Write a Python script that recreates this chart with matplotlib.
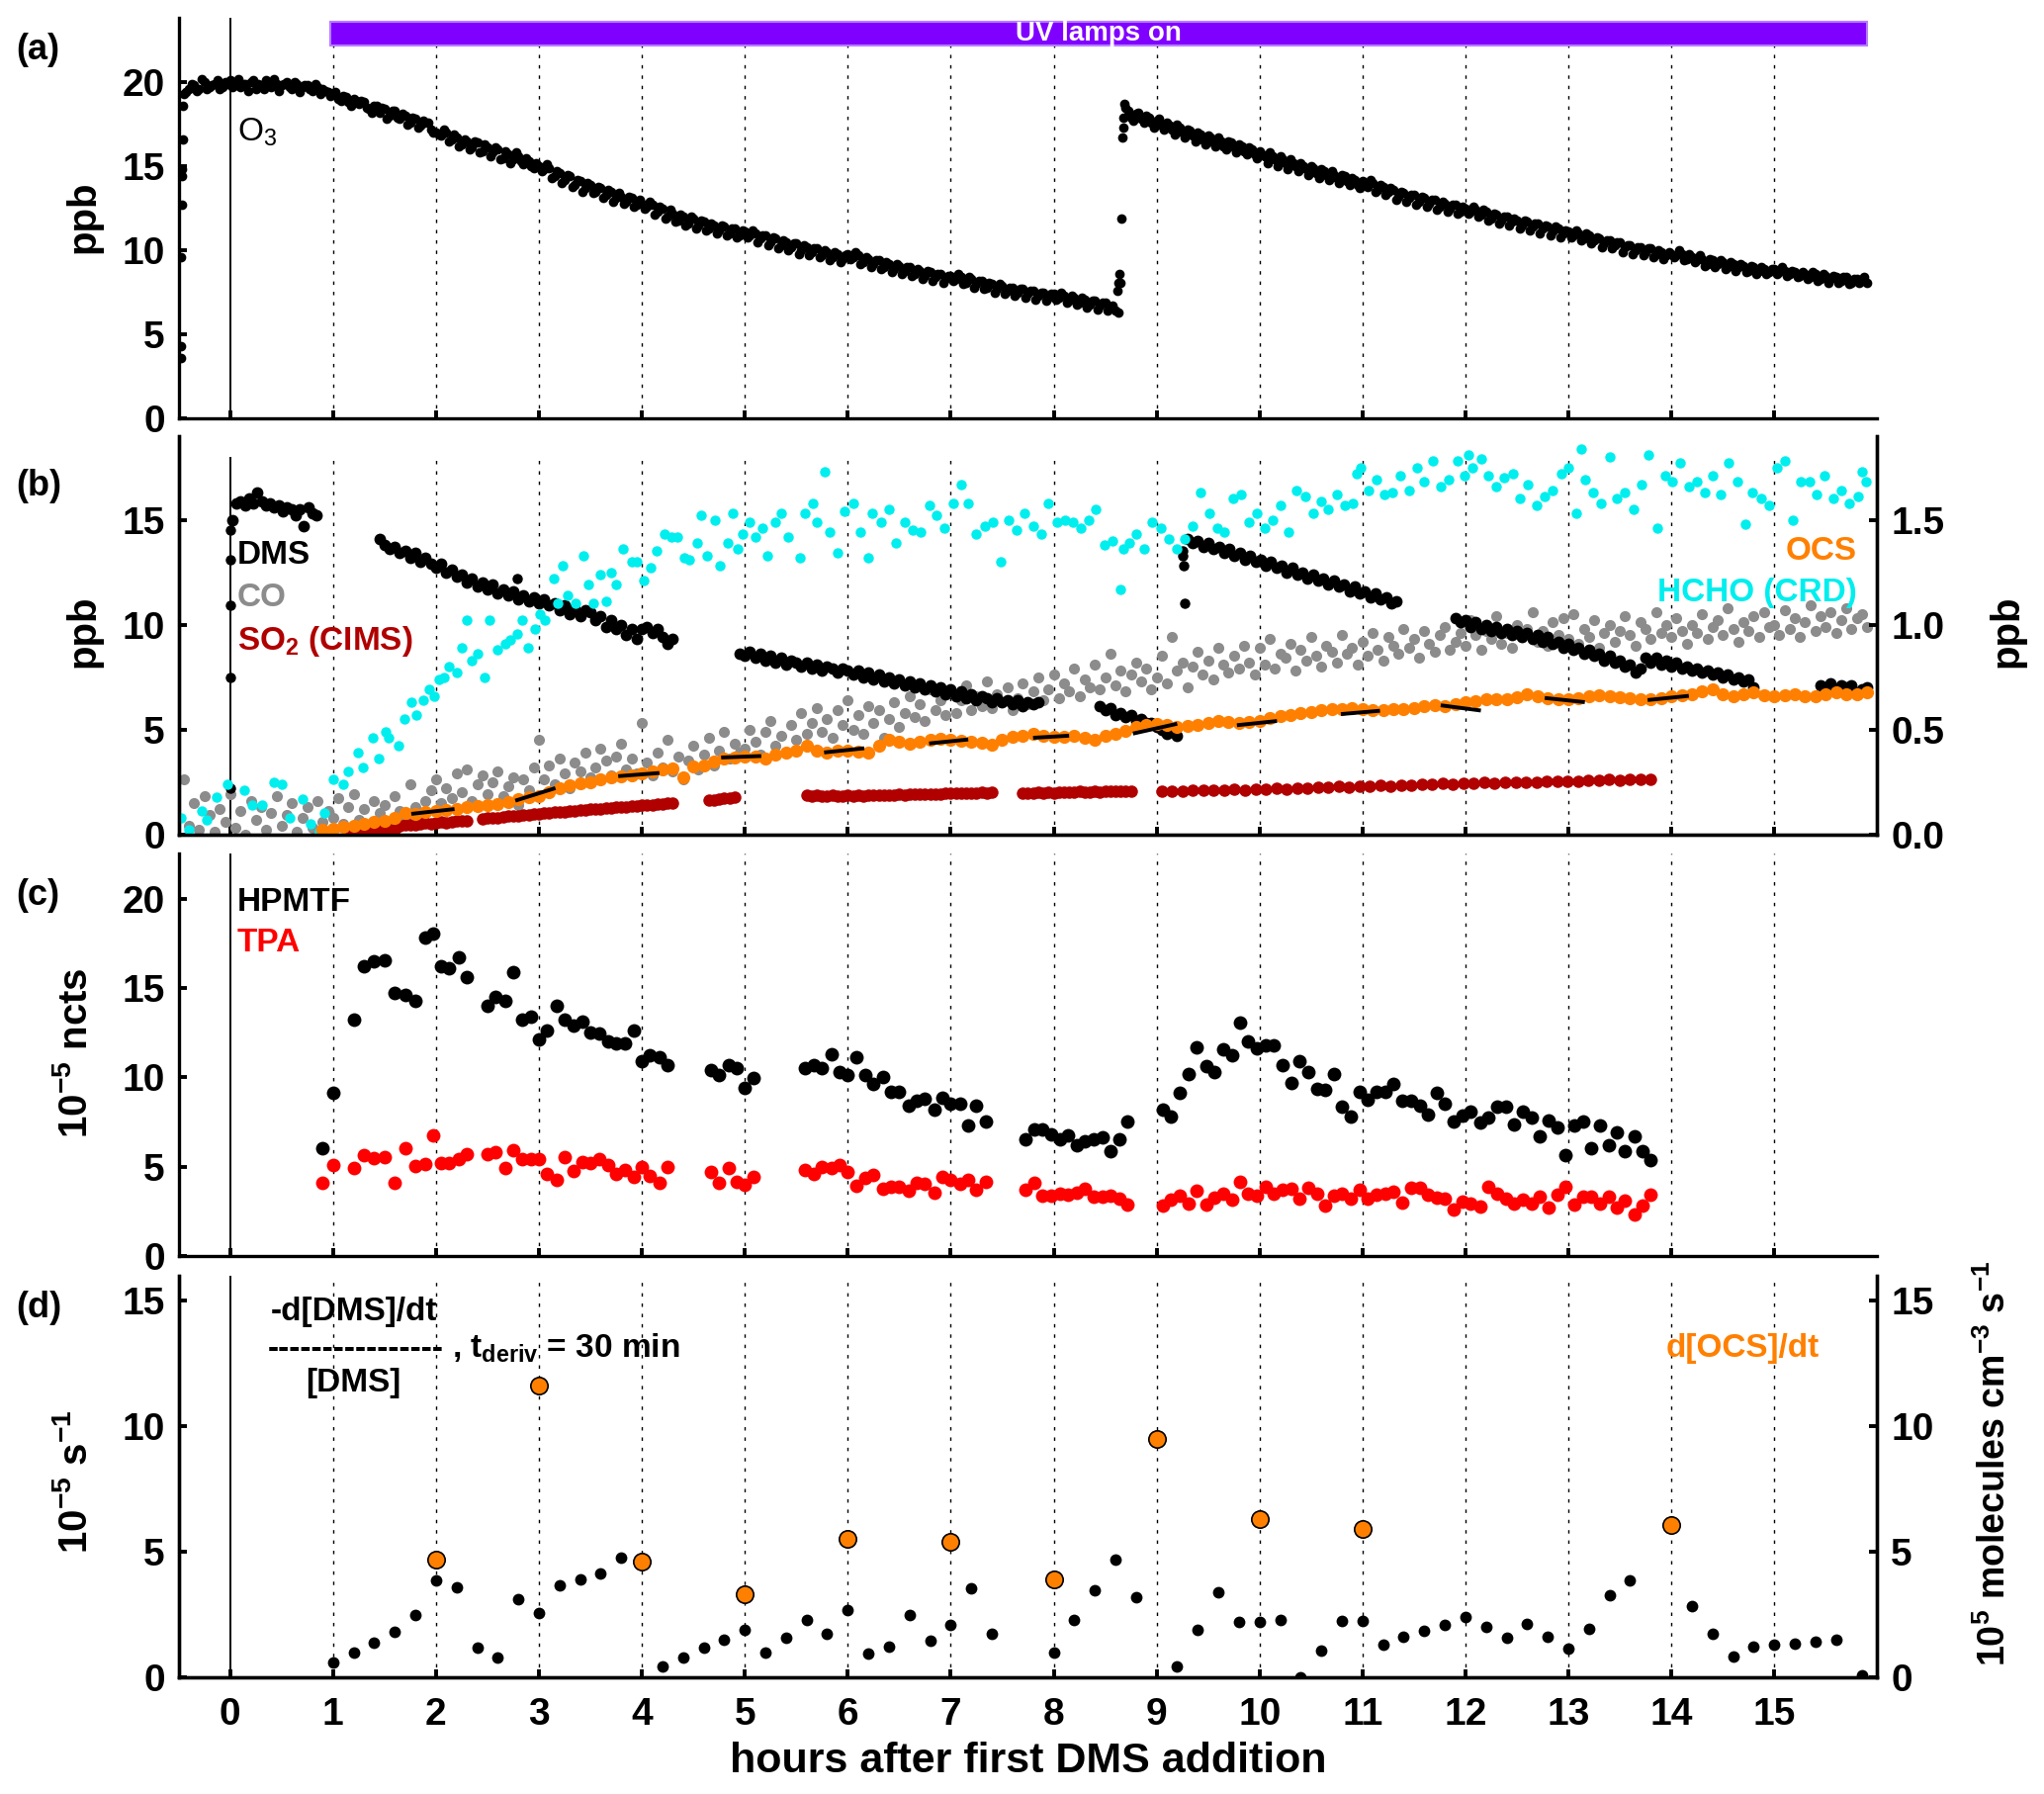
import numpy as np
import matplotlib
matplotlib.use('Agg')
import matplotlib.pyplot as plt

plt.rcParams['font.family'] = ['Liberation Sans', 'DejaVu Sans']
plt.rcParams['font.weight'] = 'bold'
plt.rcParams['mathtext.default'] = 'regular'
plt.rcParams['axes.linewidth'] = 2.4

# ---------------- data ----------------
hours = list(range(16))
uv_on, uv_off = 0.97, 15.9

# Panel (a): O3 (ppb), two interleaved sample sets on regular grids
o3_start, o3_end = -0.45, 15.90
o3_vals = [19.3, 19.6, 19.8, 19.6, 20.0, 19.7, 19.9, 19.6, 20.0,
    20.1, 19.8, 19.7, 19.9, 20.0, 19.6, 19.8, 20.1, 19.7, 19.9, 19.8, 20.0, 19.6, 19.9, 19.7, 19.8, 19.5, 19.7, 19.6, 19.4,
    19.3, 19.0, 19.2, 18.8, 19.0, 18.7, 18.8, 18.4, 18.6, 18.2, 18.4, 18.0, 18.3, 17.8, 18.0, 17.6, 17.8, 17.4, 17.6, 17.2,
    17.0, 16.8, 17.0, 16.6, 16.7, 16.3, 16.5, 16.1, 16.4, 15.9, 16.1, 15.8, 16.0, 15.5, 15.7, 15.4, 15.6, 15.1, 15.3, 14.9,
    15.0, 14.8, 14.9, 14.4, 14.6, 14.2, 14.4, 13.9, 14.1, 13.7, 13.9, 13.5, 13.7, 13.3, 13.5, 13.1, 13.2, 12.9, 13.1, 12.7,
    12.8, 12.6, 12.7, 12.3, 12.5, 12.0, 12.2, 11.8, 12.0, 11.6, 11.9, 11.5, 11.7, 11.3, 11.5, 11.2, 11.4, 11.0, 11.3, 10.9,
    11.1, 10.9, 11.0, 10.7, 10.9, 10.5, 10.7, 10.3, 10.5, 10.2, 10.4, 10.0, 10.2, 9.9, 10.1, 9.7, 9.9, 9.6, 9.8, 9.5,
    9.8, 9.6, 9.7, 9.3, 9.5, 9.2, 9.4, 9.0, 9.2, 8.9, 9.1, 8.8, 9.0, 8.6, 8.8, 8.5, 8.7, 8.4, 8.6, 8.3,
    8.5, 8.3, 8.4, 8.1, 8.3, 8.0, 8.2, 7.8, 8.0, 7.7, 7.9, 7.6, 7.8, 7.5, 7.7, 7.4, 7.6, 7.3, 7.5, 7.2,
    7.4, 7.2, 7.3, 7.0, 7.2, 6.9, 7.1, 6.8, 7.0, 6.7, 6.9, 6.6, 6.4, 8.1, 18.5, 17.9, 18.1, 17.8, 18.0, 17.6,
    17.7, 17.4, 17.6, 17.2, 17.5, 17.0, 17.2, 16.8, 17.0, 16.6, 16.8, 16.4, 16.7, 16.2, 16.5, 16.1, 16.3, 15.9, 16.1, 15.7,
    15.9, 15.6, 15.8, 15.4, 15.6, 15.2, 15.4, 15.0, 15.2, 14.8, 15.0, 14.6, 14.8, 14.5, 14.7, 14.3, 14.5, 14.1, 14.3, 13.9,
    14.1, 13.8, 14.0, 13.6, 13.8, 13.5, 13.6, 13.2, 13.4, 13.1, 13.3, 12.9, 13.1, 12.8, 13.0, 12.6, 12.8, 12.5, 12.7, 12.3,
    12.5, 12.3, 12.4, 12.1, 12.3, 11.9, 12.1, 11.8, 12.0, 11.7, 11.8, 11.5, 11.7, 11.4, 11.6, 11.3, 11.4, 11.1, 11.3, 11.0,
    11.1, 10.9, 11.0, 10.7, 10.9, 10.6, 10.7, 10.4, 10.6, 10.3, 10.5, 10.2, 10.3, 10.0, 10.2, 9.9, 10.1, 9.8, 9.9, 9.7,
    9.8, 9.7, 9.8, 9.5, 9.6, 9.4, 9.5, 9.2, 9.4, 9.2, 9.3, 9.0, 9.2, 9.0, 9.1, 8.8, 9.0, 8.8, 8.9, 8.7,
    8.9, 8.7, 8.8, 8.6, 8.7, 8.5, 8.6, 8.4, 8.6, 8.3, 8.5, 8.3, 8.4, 8.2, 8.4, 8.1, 8.3, 8.2, 8.1]
o3b_start, o3b_end = -0.425, 15.875
o3b_vals = [19.4, 19.9, 19.5, 20.2, 19.6, 19.8, 20.1, 19.7, 19.9,
    19.7, 20.2, 19.9, 19.5, 20.1, 19.9, 19.6, 19.8, 20.2, 19.5, 19.9, 19.7, 20.0, 19.4, 19.8, 19.6, 19.9, 19.3, 19.5, 19.2,
    19.4, 18.9, 19.1, 18.6, 18.9, 18.9, 18.5, 18.2, 18.6, 18.5, 17.8, 18.3, 17.9, 18.1, 17.5, 17.9, 17.3, 17.7, 17.6, 17.0,
    16.9, 17.2, 16.5, 16.9, 16.2, 16.6, 16.0, 16.5, 15.8, 16.3, 15.6, 16.1, 15.4, 15.9, 15.2, 15.8, 15.3, 15.5, 15.0, 15.2,
    14.7, 15.1, 14.3, 14.7, 14.0, 14.5, 13.8, 14.2, 13.5, 14.0, 13.4, 13.8, 13.1, 13.6, 12.9, 13.4, 12.8, 13.2, 12.6, 13.0,
    12.5, 12.9, 12.1, 12.6, 11.9, 12.4, 11.7, 12.1, 11.5, 12.0, 11.3, 11.8, 11.2, 11.6, 11.0, 11.5, 10.9, 11.3, 10.8, 11.2,
    10.8, 11.2, 10.5, 10.9, 10.3, 10.8, 10.1, 10.6, 10.0, 10.4, 9.8, 10.3, 9.7, 10.1, 9.6, 10.0, 9.4, 9.9, 9.3, 9.7,
    9.5, 9.9, 9.2, 9.6, 9.0, 9.4, 8.9, 9.3, 8.7, 9.2, 8.6, 9.0, 8.5, 8.9, 8.3, 8.8, 8.2, 8.6, 8.1, 8.5,
    8.2, 8.6, 8.0, 8.4, 7.8, 8.2, 7.7, 8.1, 7.5, 8.0, 7.4, 7.8, 7.3, 7.7, 7.2, 7.6, 7.1, 7.5, 7.0, 7.4,
    7.1, 7.5, 6.9, 7.3, 6.8, 7.2, 6.6, 7.0, 6.5, 6.9, 6.4, 6.7, 6.3, 17.9, 18.3, 17.7, 18.2, 17.6, 17.9, 17.3,
    17.8, 17.2, 17.4, 16.9, 17.3, 16.7, 17.1, 16.5, 16.9, 16.3, 16.7, 16.2, 16.5, 16.0, 16.4, 15.8, 16.2, 15.7, 16.0, 15.5,
    15.7, 15.2, 15.6, 15.0, 15.4, 14.8, 15.2, 14.7, 15.0, 14.5, 14.9, 14.3, 14.7, 14.2, 14.5, 14.0, 14.4, 13.9, 14.2, 13.7,
    13.9, 14.2, 13.5, 13.9, 13.3, 13.7, 13.0, 13.5, 12.9, 13.3, 12.7, 13.2, 12.6, 13.0, 12.4, 12.9, 12.3, 12.7, 12.2, 12.6,
    12.2, 12.6, 12.0, 12.4, 11.8, 12.2, 11.6, 12.0, 11.5, 11.9, 11.3, 11.8, 11.2, 11.6, 11.0, 11.5, 10.9, 11.4, 10.8, 11.2,
    10.8, 11.2, 10.6, 11.0, 10.4, 10.8, 10.2, 10.6, 10.1, 10.5, 9.9, 10.3, 9.8, 10.2, 9.7, 10.1, 9.6, 10.0, 9.5, 9.9,
    9.6, 10.0, 9.4, 9.8, 9.3, 9.7, 9.1, 9.5, 9.0, 9.4, 8.9, 9.3, 8.8, 9.2, 8.7, 9.1, 8.6, 9.0, 8.6, 8.9,
    8.6, 9.0, 8.5, 8.8, 8.4, 8.7, 8.3, 8.7, 8.2, 8.6, 8.1, 8.5, 8.1, 8.4, 8.0, 8.3, 8.1, 8.4]
# extra O3 points: chamber fill at start and O3 re-injection near 8.65 h
o3_extra_t = [-0.48, -0.48, -0.475, -0.47, -0.47, -0.465, -0.46, -0.455, 8.62, 8.63, 8.64, 8.655, 8.665, 8.675, 8.69]
o3_extra_v = [3.6, 4.3, 9.6, 12.7, 14.4, 14.8, 16.6, 18.6, 7.6, 8.1, 8.6, 11.9, 16.7, 17.3, 18.7]

# Panel (b): DMS (ppb, left axis) in segments (start h, end h, values)
dms_segments = [
    (0.02, 0.84, [15.0, 15.8, 15.9, 15.7, 16.0, 15.8, 16.3, 15.9, 15.7, 15.8, 15.6, 15.7, 15.4, 15.6, 15.5,
                  15.2, 15.5, 14.7, 15.6, 15.3, 15.2]),
    (1.45, 4.30, [14.1, 13.8, 13.6, 13.7, 13.4, 13.5, 13.2, 13.4, 13.0, 13.2, 12.9, 12.7, 12.9, 12.5, 12.6,
                  12.3, 12.4, 12.0, 12.2, 11.8, 12.0, 11.7, 11.9, 11.5, 11.7, 11.4, 11.6, 11.2, 11.4, 11.1,
                  11.3, 11.0, 11.2, 10.9, 11.0, 10.7, 10.9, 10.5, 10.8, 10.4, 10.7, 10.6, 10.2, 10.4, 9.9,
                  10.2, 9.8, 10.0, 9.5, 9.8, 9.3, 9.8, 9.9, 9.6, 9.8, 9.4, 9.1, 9.3]),
    (4.95, 7.85, [8.6, 8.5, 8.7, 8.4, 8.6, 8.3, 8.5, 8.2, 8.4, 8.1, 8.3, 8.2, 8.0, 8.2, 7.9, 8.1, 7.8, 8.0,
                  7.9, 7.7, 7.9, 7.8, 7.6, 7.8, 7.5, 7.7, 7.4, 7.6, 7.3, 7.5, 7.2, 7.4, 7.1, 7.3, 7.0, 7.2,
                  6.9, 7.1, 6.8, 7.0, 6.7, 6.9, 6.6, 6.8, 6.5, 6.7, 6.4, 6.6, 6.5, 6.3, 6.5, 6.3, 6.4, 6.2,
                  6.4, 6.1, 6.3, 6.2, 6.3]),
    (8.45, 9.20, [6.1, 5.9, 6.0, 5.7, 5.8, 5.6, 5.7, 5.4, 5.5, 5.3, 5.3, 5.1, 5.0, 4.8, 4.9, 4.7]),
    (9.30, 11.33, [14.1, 13.9, 14.0, 13.7, 13.9, 13.6, 13.7, 13.4, 13.6, 13.3, 13.4, 13.1, 13.3, 13.0, 13.1,
                   12.8, 13.0, 12.7, 12.8, 12.5, 12.7, 12.4, 12.5, 12.2, 12.4, 12.1, 12.2, 11.9, 12.1, 11.8,
                   11.9, 11.6, 11.8, 11.5, 11.6, 11.3, 11.5, 11.2, 11.3, 11.0, 11.1]),
    (11.90, 14.80, [10.3, 10.1, 10.2, 9.9, 10.1, 9.8, 10.0, 9.7, 9.9, 9.6, 9.8, 9.5, 9.7, 9.4, 9.6, 9.3,
                    9.5, 9.2, 9.4, 9.1, 9.2, 8.9, 9.1, 8.8, 8.9, 8.6, 8.8, 8.5, 8.6, 8.3, 8.5, 8.2, 8.3,
                    8.0, 8.1, 7.7, 7.9, 8.4, 8.2, 8.4, 8.1, 8.3, 8.0, 8.2, 7.9, 8.0, 7.8, 7.9, 7.7, 7.8,
                    7.6, 7.7, 7.5, 7.6, 7.4, 7.5, 7.3, 7.4, 7.0]),
    (15.45, 15.90, [7.1, 7.0, 7.2, 6.9, 7.1, 7.0, 7.1, 6.7, 6.9, 7.0]),
]
dms_extra_t = [0.0, 0.0, 0.0, 0.0, 0.0, 2.79, 9.25, 9.25, 9.26, 9.27]
dms_extra_v = [2.2, 7.5, 10.9, 13.1, 14.5, 12.2, 13.5, 13.3, 12.8, 11.0]

# CO (ppb, left axis), regular sampling -0.45 .. 15.90 h
co_start, co_end = -0.45, 15.90
co_vals = [2.6, 0.4, 1.5, 0.2, 1.8, 0.9, 0.1, 1.2, 0.6,
    1.9, 0.3, 1.1, 0.0, 1.6, 0.7, 1.3, 0.2, 1.0, 1.8, 0.4, 0.9, 1.5, 0.1, 0.8, 1.3, 0.3, 1.6, 0.6, 1.1,
    0.8, 1.7, 0.5, 1.3, 1.9, 0.7, 1.2, 0.4, 1.6, 1.0, 1.4, 0.6, 1.8, 1.1, 0.8, 2.4, 1.3, 0.9, 1.6, 2.1,
    2.6, 1.5, 2.2, 1.7, 2.9, 2.0, 3.1, 1.6, 2.4, 2.8, 1.9, 2.5, 3.0, 1.8, 2.3, 2.7, 1.4, 2.6, 2.1, 3.2,
    4.5, 2.6, 3.3, 2.4, 3.6, 2.9, 2.2, 3.4, 3.0, 3.9, 2.7, 3.2, 4.1, 3.5, 2.8, 3.7, 4.3, 3.1, 3.6, 2.9,
    5.3, 3.4, 2.8, 3.9, 3.2, 4.5, 3.0, 3.7, 2.6, 3.5, 4.2, 3.1, 3.8, 4.6, 3.3, 4.0, 4.9, 3.6, 4.3, 3.9,
    4.1, 5.0, 4.4, 3.8, 4.9, 5.4, 4.2, 4.7, 3.9, 5.2, 4.5, 5.8, 4.8, 5.3, 6.0, 4.9, 5.5, 4.6, 5.9, 5.2,
    6.4, 5.0, 5.7, 4.8, 6.1, 5.3, 5.9, 4.6, 5.5, 6.3, 5.1, 5.8, 6.6, 5.6, 6.2, 5.4, 6.9, 5.9, 6.4, 5.7,
    6.8, 5.8, 6.4, 7.1, 5.9, 6.6, 6.1, 7.3, 6.0, 6.7, 6.3, 7.0, 5.9, 6.5, 7.2, 6.2, 6.8, 7.5, 6.4, 6.9,
    7.6, 6.5, 7.2, 6.8, 7.9, 6.6, 7.4, 7.0, 8.1, 6.9, 7.5, 8.6, 7.1, 7.8, 6.8, 7.6, 8.2, 7.3, 7.9, 6.9,
    7.5, 8.5, 7.2, 9.4, 7.8, 8.2, 7.0, 8.0, 8.7, 7.6, 8.3, 7.4, 8.9, 8.1, 7.7, 8.5, 7.9, 9.0, 8.2, 7.6,
    8.9, 8.1, 9.3, 7.9, 8.6, 8.4, 9.1, 7.8, 8.8, 8.3, 9.4, 8.5, 8.0, 9.0, 8.7, 8.2, 9.5, 8.6, 8.9, 8.1,
    9.2, 8.5, 9.6, 8.8, 8.3, 9.4, 9.0, 8.6, 9.8, 8.9, 9.3, 8.4, 9.7, 9.1, 8.7, 9.5, 9.9, 8.8, 9.2, 9.6,
    9.0, 10.2, 9.5, 8.8, 9.7, 9.3, 10.4, 9.1, 9.6, 8.9, 10.0, 9.4, 9.8, 10.6, 9.2, 9.7, 9.0, 10.1, 9.5, 10.3,
    9.3, 10.5, 9.1, 9.8, 9.4, 10.2, 8.9, 9.6, 10.0, 9.2, 9.7, 10.4, 9.5, 9.0, 10.1, 9.8, 9.3, 10.6, 9.6, 10.0,
    9.4, 10.3, 9.7, 9.1, 10.0, 9.6, 10.5, 9.3, 9.9, 10.2, 9.5, 10.8, 9.8, 9.2, 10.1, 9.7, 10.4, 9.4, 10.6, 9.9,
    10.0, 9.5, 10.7, 9.8, 10.3, 9.4, 10.1, 10.9, 9.7, 10.4, 9.9, 10.6, 9.6, 10.2, 10.8, 9.8, 10.3, 10.5, 9.9]

# SO2 (CIMS) (ppb, left axis) in segments
so2_segments = [
    (1.15, 1.60, [0.12, 0.15, 0.17, 0.16, 0.19, 0.18, 0.20, 0.21, 0.19, 0.22]),
    (1.65, 2.30, [0.42, 0.45, 0.47, 0.46, 0.50, 0.52, 0.51, 0.55, 0.57, 0.56, 0.60, 0.62, 0.64, 0.66]),
    (2.45, 4.30, [0.73, 0.76, 0.78, 0.80, 0.82, 0.85, 0.86, 0.88, 0.90, 0.93, 0.95, 0.97, 1.00, 1.02, 1.04,
                  1.06, 1.08, 1.10, 1.12, 1.14, 1.16, 1.18, 1.20, 1.22, 1.24, 1.26, 1.28, 1.30, 1.31, 1.33,
                  1.35, 1.37, 1.39, 1.41, 1.43, 1.45, 1.47, 1.50]),
    (4.65, 4.90, [1.62, 1.65, 1.67, 1.70, 1.72, 1.75]),
    (5.60, 7.40, [1.85, 1.83, 1.86, 1.84, 1.82, 1.85, 1.83, 1.84, 1.86, 1.83, 1.85, 1.84, 1.86, 1.85, 1.87,
                  1.86, 1.88, 1.87, 1.89, 1.88, 1.90, 1.89, 1.91, 1.90, 1.92, 1.93, 1.92, 1.94, 1.95, 1.94,
                  1.96, 1.97, 1.96, 1.98, 1.99, 1.98, 2.00]),
    (7.70, 8.75, [1.95, 1.98, 1.96, 1.99, 1.97, 2.00, 1.98, 2.01, 1.99, 2.02, 2.00, 2.03, 2.01, 2.00, 2.03,
                  2.02, 2.04, 2.03, 2.05, 2.04, 2.06, 2.05]),
    (9.05, 13.80, [2.05, 2.07, 2.06, 2.09, 2.08, 2.11, 2.10, 2.13, 2.12, 2.15, 2.14, 2.18, 2.17, 2.21, 2.20,
                   2.24, 2.23, 2.27, 2.26, 2.30, 2.29, 2.32, 2.31, 2.35, 2.34, 2.38, 2.37, 2.41, 2.40, 2.44,
                   2.43, 2.46, 2.45, 2.48, 2.47, 2.50, 2.49, 2.52, 2.51, 2.54, 2.53, 2.57, 2.56, 2.60, 2.59,
                   2.62, 2.61, 2.64]),
]

# HCHO (CRD) (ppb, right axis)
hcho_t = [-0.48, -0.40, -0.28, -0.23, -0.13, -0.03, 0.14, 0.21, 0.31, 0.43, 0.50, 0.58, 0.70, 0.78, 0.87, 0.92,
    1.00, 1.10, 1.15, 1.24, 1.29, 1.39, 1.44, 1.51, 1.54, 1.64, 1.69, 1.76, 1.81, 1.88, 1.93, 1.98, 2.03, 2.08,
    2.13, 2.20, 2.25, 2.30, 2.35, 2.40, 2.47, 2.52, 2.60, 2.67, 2.72, 2.79, 2.84, 2.89, 2.96, 3.01, 3.06, 3.14,
    3.18, 3.23, 3.28, 3.36, 3.43, 3.48, 3.53, 3.60, 3.65, 3.70, 3.75, 3.82, 3.90, 3.95, 4.02, 4.09, 4.14, 4.22,
    4.29, 4.34, 4.41, 4.46, 4.54, 4.58, 4.63, 4.71, 4.76, 4.83, 4.88, 4.93, 4.98, 5.05, 5.10, 5.17, 5.22, 5.30,
    5.35, 5.42, 5.54, 5.58, 5.66, 5.70, 5.78, 5.82, 5.90, 5.97, 6.05, 6.12, 6.20, 6.24, 6.32, 6.40, 6.47, 6.55,
    6.63, 6.71, 6.79, 6.86, 6.94, 7.02, 7.10, 7.17, 7.25, 7.33, 7.41, 7.49, 7.56, 7.64, 7.72, 7.80, 7.88, 7.95,
    8.03, 8.11, 8.19, 8.26, 8.34, 8.41, 8.49, 8.57, 8.65, 8.68, 8.73, 8.80, 8.88, 8.96, 9.04, 9.12, 9.20, 9.27,
    9.35, 9.43, 9.51, 9.59, 9.66, 9.74, 9.82, 9.90, 9.97, 10.05, 10.13, 10.20, 10.28, 10.36, 10.44, 10.52, 10.60,
    10.67, 10.75, 10.83, 10.91, 10.94, 10.98, 11.06, 11.14, 11.21, 11.29, 11.37, 11.45, 11.53, 11.60, 11.68,
    11.76, 11.84, 11.92, 11.99, 12.03, 12.07, 12.15, 12.22, 12.30, 12.38, 12.46, 12.53, 12.61, 12.69, 12.77,
    12.85, 12.93, 13.00, 13.08, 13.12, 13.16, 13.24, 13.32, 13.40, 13.47, 13.55, 13.63, 13.71, 13.78, 13.86,
    13.94, 14.01, 14.09, 14.17, 14.25, 14.33, 14.40, 14.48, 14.56, 14.64, 14.72, 14.79, 14.87, 14.95, 15.03,
    15.10, 15.18, 15.26, 15.34, 15.41, 15.49, 15.57, 15.65, 15.73, 15.81, 15.85, 15.89]
hcho_v = [0.08, 0.02, 0.11, 0.07, 0.175, 0.24, 0.21, 0.14, 0.14, 0.25, 0.24, 0.08, 0.167, 0.05, 0.01, 0.10,
    0.26, 0.24, 0.30, 0.39, 0.32, 0.46, 0.36, 0.49, 0.46, 0.42, 0.55, 0.63, 0.57, 0.64, 0.69, 0.66, 0.74, 0.75,
    0.80, 0.77, 0.89, 1.02, 0.83, 0.86, 0.75, 1.02, 0.88, 0.91, 0.925, 0.956, 1.02, 0.89, 0.98, 1.05, 1.02, 1.22,
    1.10, 1.28, 1.14, 1.10, 1.33, 1.19, 1.10, 1.24, 1.11, 1.25, 1.19, 1.36, 1.30, 1.30, 1.21, 1.27, 1.35, 1.43,
    1.42, 1.42, 1.32, 1.31, 1.39, 1.52, 1.33, 1.50, 1.28, 1.39, 1.53, 1.36, 1.43, 1.49, 1.42, 1.46, 1.33, 1.49,
    1.53, 1.42, 1.32, 1.53, 1.58, 1.49, 1.73, 1.44, 1.34, 1.54, 1.58, 1.44, 1.32, 1.53, 1.49, 1.55, 1.39, 1.49,
    1.45, 1.44, 1.57, 1.52, 1.46, 1.58, 1.67, 1.58, 1.43, 1.47, 1.49, 1.30, 1.50, 1.45, 1.53, 1.47, 1.43, 1.58,
    1.49, 1.50, 1.49, 1.46, 1.50, 1.55, 1.38, 1.40, 1.17, 1.36, 1.39, 1.43, 1.36, 1.49, 1.46, 1.41, 1.36, 1.41,
    1.47, 1.63, 1.53, 1.46, 1.44, 1.60, 1.62, 1.49, 1.53, 1.46, 1.50, 1.57, 1.44, 1.64, 1.61, 1.53, 1.59,
    1.55, 1.62, 1.57, 1.58, 1.72, 1.75, 1.64, 1.69, 1.62, 1.63, 1.71, 1.64, 1.75, 1.68, 1.78,
    1.66, 1.69, 1.78, 1.71, 1.81, 1.75, 1.79, 1.71, 1.66, 1.70, 1.72, 1.60, 1.67, 1.57, 1.61,
    1.64, 1.72, 1.75, 1.53, 1.84, 1.69, 1.63, 1.58, 1.80, 1.60, 1.63, 1.55, 1.67, 1.81, 1.46,
    1.71, 1.68, 1.77, 1.66, 1.68, 1.63, 1.71, 1.62, 1.77, 1.68, 1.48, 1.63, 1.60, 1.57, 1.75,
    1.78, 1.50, 1.68, 1.68, 1.62, 1.71, 1.60, 1.64, 1.58, 1.61, 1.73, 1.68]

# OCS (ppb, right axis), every 0.1 h from 0.9 to 15.9 h
ocs_start, ocs_end = 0.9, 15.9
ocs_vals = [0.02, 0.027, 0.035, 0.04, 0.05, 0.058, 0.065, 0.08, 0.10, 0.097, 0.105,
    0.11, 0.115, 0.12, 0.13, 0.136, 0.14, 0.144, 0.155, 0.167, 0.175,
    0.183, 0.20, 0.22, 0.235, 0.245, 0.25, 0.26, 0.27, 0.277, 0.283,
    0.288, 0.30, 0.308, 0.315, 0.27, 0.323, 0.33, 0.345, 0.36, 0.365,
    0.37, 0.372, 0.36, 0.38, 0.39, 0.40, 0.42, 0.40, 0.39, 0.40,
    0.40, 0.395, 0.39, 0.42, 0.45, 0.44, 0.43, 0.44, 0.45, 0.455,
    0.45, 0.445, 0.44, 0.435, 0.425, 0.45, 0.464, 0.47, 0.48, 0.47,
    0.464, 0.465, 0.47, 0.46, 0.45, 0.47, 0.48, 0.495, 0.51, 0.52,
    0.527, 0.52, 0.51, 0.515, 0.52, 0.53, 0.54, 0.535, 0.53, 0.535,
    0.54, 0.555, 0.566, 0.57, 0.578, 0.585, 0.59, 0.595, 0.597, 0.60,
    0.597, 0.593, 0.59, 0.595, 0.597, 0.60, 0.61, 0.615, 0.61, 0.62,
    0.628, 0.635, 0.644, 0.645, 0.644, 0.655, 0.667, 0.66, 0.65, 0.645,
    0.644, 0.65, 0.66, 0.665, 0.66, 0.655, 0.65, 0.645, 0.644, 0.65,
    0.66, 0.665, 0.67, 0.68, 0.69, 0.67, 0.66, 0.67, 0.675, 0.665,
    0.66, 0.665, 0.667, 0.66, 0.66, 0.67, 0.675, 0.67, 0.667, 0.675]
# linear fits of OCS around each hour (t0, t1, v0, v1)
ocs_fit_t0 = [1.76, 2.77, 3.77, 4.77, 5.77, 6.79, 7.80, 8.77, 9.78, 10.79, 11.76, 12.77, 13.77]
ocs_fit_t1 = [2.18, 3.16, 4.17, 5.16, 6.16, 7.17, 8.15, 9.20, 10.17, 11.17, 12.15, 13.16, 14.17]
ocs_fit_v0 = [0.097, 0.16, 0.277, 0.366, 0.39, 0.433, 0.46, 0.48, 0.52, 0.573, 0.615, 0.65, 0.64]
ocs_fit_v1 = [0.12, 0.22, 0.292, 0.373, 0.41, 0.452, 0.47, 0.527, 0.54, 0.589, 0.59, 0.63, 0.66]

# Panel (c): HPMTF and TPA (1e-5 ncts)
hpmtf_t = [0.9, 1.0, 1.2, 1.3, 1.4, 1.5, 1.6, 1.7, 1.8, 1.9, 1.97, 2.05, 2.13, 2.22, 2.3, 2.5, 2.58, 2.67,
    2.75, 2.84, 2.92, 3.0, 3.08, 3.17, 3.25, 3.34, 3.42, 3.5, 3.59, 3.67, 3.75, 3.84, 3.92, 4.0, 4.08, 4.17,
    4.25, 4.67, 4.75, 4.84, 4.92, 5.0, 5.08, 5.58, 5.67, 5.75, 5.84, 5.92, 6.0, 6.08, 6.17, 6.25, 6.34,
    6.42, 6.5, 6.59, 6.67, 6.75, 6.84, 6.92, 7.0, 7.09, 7.17, 7.25, 7.34,
    7.73, 7.81, 7.89, 7.98, 8.06, 8.14, 8.23, 8.30, 8.39, 8.48, 8.55, 8.64, 8.72, 9.06, 9.14, 9.22, 9.31,
    9.39, 9.48, 9.56, 9.65, 9.73, 9.81, 9.89, 9.97, 10.06, 10.14, 10.22, 10.31, 10.39, 10.47, 10.56, 10.64,
    10.72, 10.80, 10.89, 10.97, 11.05, 11.14, 11.22, 11.30, 11.39, 11.47, 11.56, 11.64, 11.72, 11.80, 11.89,
    11.97, 12.05, 12.14, 12.22, 12.31, 12.39, 12.47, 12.56, 12.64, 12.72, 12.81, 12.89, 12.97, 13.06, 13.14,
    13.22, 13.31, 13.39, 13.47, 13.55, 13.64, 13.72, 13.80]
hpmtf_v = [6.05, 9.13, 13.2, 16.2, 16.5, 16.55, 14.7, 14.6, 14.3, 17.8, 18.05, 16.2, 16.1, 16.7, 15.6,
    14.0, 14.5, 14.3, 15.9, 13.2, 13.4, 12.1, 12.6, 14.0, 13.2, 12.9, 13.1, 12.5, 12.45, 12.0, 11.9, 11.9,
    12.6, 10.9, 11.25, 11.1, 10.65, 10.4, 10.1, 10.65, 10.5, 9.4, 9.96, 10.5, 10.7, 10.5, 11.3, 10.3, 10.1,
    11.1, 10.1, 9.6, 10.0, 9.2, 9.17, 8.43, 8.67, 8.8, 8.17, 8.86, 8.5, 8.5, 7.3, 8.4, 7.5,
    6.55, 7.07, 7.07, 6.8, 6.5, 6.77, 6.18, 6.4, 6.5, 6.64, 5.85, 6.5, 7.53, 8.17, 7.8, 9.1, 10.2,
    11.7, 10.6, 10.3, 11.57, 11.24, 13.06, 12.0, 11.6, 11.8, 11.8, 10.7, 9.7, 10.9, 10.3, 9.35, 9.28,
    10.2, 8.36, 7.8, 9.17, 8.73, 9.17, 9.17, 9.6, 8.67, 8.67, 8.43, 7.9, 9.13, 8.5, 7.5,
    7.84, 8.06, 7.47, 7.75, 8.36, 8.36, 7.34, 8.06, 7.75, 6.7, 7.56, 7.2, 5.63, 7.32, 7.5,
    6.05, 7.29, 6.18, 6.92, 5.85, 6.68, 5.85, 5.35]
tpa_v = [4.06, 5.07, 4.94, 5.66, 5.48, 5.53, 4.06, 6.05, 5.04, 5.13, 6.77, 5.17, 5.17, 5.44, 5.72,
    5.72, 5.81, 4.89, 5.9, 5.4, 5.4, 5.4, 4.56, 4.28, 5.53, 4.74, 5.26, 5.17, 5.44, 5.07, 4.61, 4.83,
    4.43, 4.98, 4.46, 4.1, 4.98, 4.7, 4.11, 4.89, 4.15, 3.97, 4.43, 4.8, 4.56, 4.98, 4.94, 5.11, 4.7,
    3.91, 4.34, 4.52, 3.75, 3.87, 3.87, 3.63, 4.06, 4.02, 3.56, 4.43, 4.24, 4.02, 4.28, 3.69, 4.15,
    3.69, 4.06, 3.38, 3.38, 3.5, 3.41, 3.56, 3.78, 3.32, 3.32, 3.38, 3.19, 2.86, 2.82, 3.14, 3.38, 2.92,
    3.63, 2.86, 3.27, 3.5, 3.14, 4.15, 3.5, 3.38, 3.87, 3.5, 3.69, 3.75, 3.19, 3.82, 3.5, 2.82,
    3.38, 3.5, 3.19, 3.69, 3.19, 3.41, 3.5, 3.6, 3.0, 3.82, 3.82, 3.41, 3.27, 3.19, 2.58,
    3.04, 2.95, 2.77, 3.87, 3.5, 3.19, 2.95, 3.14, 2.95, 3.32, 2.68, 3.41, 3.87, 2.86, 3.32,
    3.32, 2.95, 3.32, 2.68, 3.08, 2.34, 2.82, 3.41]

# Panel (d): -d[DMS]/dt / [DMS] (1e-5 s-1) and d[OCS]/dt (1e5 molecules cm-3 s-1)
loss_t = [1.0, 1.2, 1.4, 1.6, 1.8, 2.0, 2.2, 2.4, 2.6, 2.8, 3.0, 3.2, 3.4, 3.6, 3.8, 4.2, 4.4, 4.6, 4.8,
    5.0, 5.2, 5.4, 5.6, 5.8, 6.0, 6.2, 6.4, 6.6, 6.8, 7.0, 7.2, 7.4, 8.0, 8.2, 8.4, 8.6, 8.8, 9.2, 9.4,
    9.6, 9.8, 10.0, 10.2, 10.4, 10.6, 10.8, 11.0, 11.2, 11.4, 11.6, 11.8, 12.0, 12.2, 12.4, 12.6, 12.8,
    13.0, 13.2, 13.4, 13.6, 14.2, 14.4, 14.6, 14.8, 15.0, 15.2, 15.4, 15.6, 15.85]
loss_v = [0.6, 1.0, 1.4, 1.8, 2.5, 3.87, 3.6, 1.17, 0.78, 3.1, 2.57, 3.67, 3.9, 4.12, 4.77, 0.44, 0.81,
    1.17, 1.5, 1.88, 1.0, 1.57, 2.3, 1.72, 2.7, 0.96, 1.22, 2.5, 1.47, 2.09, 3.53, 1.74, 0.99, 2.27,
    3.47, 4.7, 3.2, 0.44, 1.9, 3.4, 2.2, 2.2, 2.3, 0.0, 1.06, 2.25, 2.25, 1.3, 1.6, 1.85, 2.1, 2.39,
    2.0, 1.57, 2.13, 1.6, 1.13, 1.94, 3.26, 3.87, 2.84, 1.72, 0.84, 1.24, 1.3, 1.36, 1.44, 1.5, 0.07]
ocs_rate_t = [2, 3, 4, 5, 6, 7, 8, 9, 10, 11, 14]
ocs_rate_v = [4.7, 11.6, 4.6, 3.3, 5.5, 5.4, 3.9, 9.5, 6.3, 5.9, 6.05]

# ---------------- styling ----------------
C_CO = '#8c8c8c'
C_SO2 = '#b00000'
C_HCHO = '#00eeee'
C_OCS = '#ff8000'
C_TPA = '#ff0000'
C_UV = '#8000ff'
TICK = 28
LAB = 24
DOT = (0, (2.5, 5))

fig = plt.figure(figsize=(20.67, 18.14), dpi=100)
L, W = 0.0874, 0.831
axa = fig.add_axes([L, 0.7666, W, 0.2233])
axb = fig.add_axes([L, 0.535, W, 0.222])
axc = fig.add_axes([L, 0.300, W, 0.224])
axd = fig.add_axes([L, 0.065, W, 0.224])


def base(ax, right=False, labels=False, vtop=None):
    ax.set_xlim(-0.5, 16)
    ax.spines['top'].set_visible(False)
    ax.spines['right'].set_visible(right)
    ax.set_xticks(hours)
    ax.tick_params(direction='in', length=6, width=2.8, labelsize=TICK, pad=10)
    ax.tick_params(axis='x', labelbottom=labels, pad=14)
    if vtop is None:
        ax.axvline(0, color='k', lw=1.4, zorder=0)
        for h in hours[1:]:
            ax.axvline(h, color='k', lw=1.0, ls=DOT, zorder=0)
    else:
        ax.vlines([0], 0, vtop, color='k', lw=1.4, zorder=0)
        ax.vlines(hours[1:], 0, vtop, color='k', lw=1.0, linestyles=[DOT], zorder=0)


# ----- (a) -----
base(axa)
axa.set_ylim(0, 23.8)
axa.set_yticks([0, 5, 10, 15, 20])
axa.plot(np.linspace(o3_start, o3_end, len(o3_vals)), o3_vals, 'o', color='k', ms=7, mew=0, zorder=2)
axa.plot(np.linspace(o3b_start, o3b_end, len(o3b_vals)), o3b_vals, 'o', color='k', ms=7, mew=0, zorder=2)
axa.plot(o3_extra_t, o3_extra_v, 'o', color='k', ms=7, mew=0, zorder=2)
axa.barh(22.85, uv_off - uv_on, left=uv_on, height=1.41, color=C_UV, edgecolor='#b77dff', lw=1.5, zorder=3)
axa.text((uv_on + uv_off) / 2, 22.85, 'UV lamps on', color='white', fontsize=20, ha='center', va='center', zorder=4)
axa.text(0.07, 17.0, 'O$_3$', fontsize=LAB, fontweight='normal', va='center')

# ----- (b) -----
base(axb, right=True, vtop=18.0)
axb.set_ylim(0, 19)
axb.set_yticks([0, 5, 10, 15])
axb.plot(np.linspace(co_start, co_end, len(co_vals)), co_vals, 'o', color=C_CO, ms=8, mew=0, zorder=2)
for t0, t1, vals in dms_segments:
    axb.plot(np.linspace(t0, t1, len(vals)), vals, 'o', color='k', ms=8.5, mew=0, zorder=3)
axb.plot(dms_extra_t, dms_extra_v, 'o', color='k', ms=7.5, mew=0, zorder=3)
for t0, t1, vals in so2_segments:
    axb.plot(np.linspace(t0, t1, len(vals)), vals, 'o', color=C_SO2, ms=9, mew=0, zorder=3)
axb2 = axb.twinx()
axb2.set_xlim(-0.5, 16)
axb2.set_ylim(0, 1.9)
axb2.set_yticks([0, 0.5, 1.0, 1.5])
axb2.set_yticklabels(['0.0', '0.5', '1.0', '1.5'])
axb2.spines['top'].set_visible(False)
axb2.tick_params(direction='in', length=6, width=2.8, labelsize=TICK, pad=10)
axb2.plot(hcho_t, hcho_v, 'o', color=C_HCHO, ms=7.5, mew=0)
axb2.plot(np.linspace(ocs_start, ocs_end, len(ocs_vals)), ocs_vals, 'o', color=C_OCS, ms=9.5, mew=0)
for t0, t1, v0, v1 in zip(ocs_fit_t0, ocs_fit_t1, ocs_fit_v0, ocs_fit_v1):
    axb2.plot([t0, t1], [v0, v1], '-', color='k', lw=2.8, solid_capstyle='butt')
axb.text(0.07, 13.3, 'DMS', color='k', fontsize=LAB, va='center')
axb.text(0.07, 11.3, 'CO', color=C_CO, fontsize=LAB, va='center')
axb.text(0.07, 9.2, 'SO$_2$ (CIMS)', color=C_SO2, fontsize=LAB, va='center')
axb.text(15.8, 13.5, 'OCS', color=C_OCS, fontsize=LAB, va='center', ha='right')
axb.text(15.8, 11.5, 'HCHO (CRD)', color=C_HCHO, fontsize=LAB, va='center', ha='right')

# ----- (c) -----
base(axc)
axc.set_ylim(0, 22.5)
axc.set_yticks([0, 5, 10, 15, 20])
axc.plot(hpmtf_t, hpmtf_v, 'o', color='k', ms=10, mew=0)
axc.plot(hpmtf_t, tpa_v, 'o', color=C_TPA, ms=10, mew=0)
axc.text(0.07, 19.8, 'HPMTF', color='k', fontsize=LAB, va='center')
axc.text(0.07, 17.5, 'TPA', color=C_TPA, fontsize=LAB, va='center')

# ----- (d) -----
base(axd, right=True, labels=True)
axd.set_ylim(0, 16)
axd.set_yticks([0, 5, 10, 15])
axd.plot(loss_t, loss_v, 'o', color='k', ms=8.5, mew=0)
axd2 = axd.twinx()
axd2.set_xlim(-0.5, 16)
axd2.set_ylim(0, 16)
axd2.set_yticks([0, 5, 10, 15])
axd2.spines['top'].set_visible(False)
axd2.tick_params(direction='in', length=6, width=2.8, labelsize=TICK, pad=10)
axd2.plot(ocs_rate_t, ocs_rate_v, 'o', color=C_OCS, ms=12.5, mec='k', mew=1.2)
axd.text(1.2, 14.55, '-d[DMS]/dt', fontsize=LAB, ha='center', va='center')
axd.text(1.22, 13.05, '----------------', fontsize=LAB, ha='center', va='center')
axd.text(1.2, 11.7, '[DMS]', fontsize=LAB, ha='center', va='center')
axd.text(2.15, 13.1, ', t$_{deriv}$ = 30 min', fontsize=LAB, ha='left', va='center')
axd.text(13.95, 13.1, 'd[OCS]/dt', color=C_OCS, fontsize=LAB, ha='left', va='center')

# ----- labels -----
for y, s in [(0.972, '(a)'), (0.729, '(b)'), (0.501, '(c)'), (0.271, '(d)')]:
    fig.text(0.008, y, s, fontsize=26, va='center', ha='left')
fig.text(0.041, 0.879, 'ppb', rotation=90, fontsize=29, ha='center', va='center')
fig.text(0.041, 0.648, 'ppb', rotation=90, fontsize=29, ha='center', va='center')
fig.text(0.037, 0.413, '10$^{-5}$ ncts', rotation=90, fontsize=29, ha='center', va='center')
fig.text(0.037, 0.174, '10$^{-5}$ s$^{-1}$', rotation=90, fontsize=29, ha='center', va='center')
fig.text(0.982, 0.648, 'ppb', rotation=90, fontsize=29, ha='center', va='center')
fig.text(0.976, 0.184, '10$^{5}$ molecules cm$^{-3}$ s$^{-1}$', rotation=90, fontsize=27, ha='center', va='center')
fig.text(L + W / 2, 0.018, 'hours after first DMS addition', fontsize=31, ha='center', va='center')

fig.savefig('out.png', dpi=100)
